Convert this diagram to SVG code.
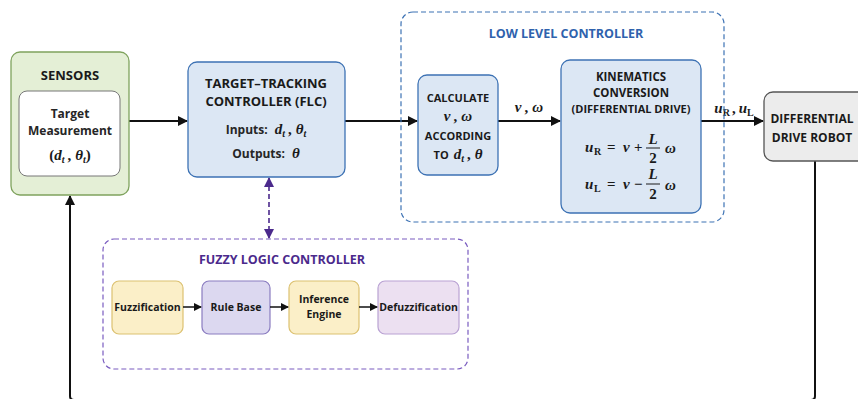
<svg xmlns="http://www.w3.org/2000/svg" width="858" height="399" viewBox="0 0 858 399">
<defs>
<marker id="ah" markerWidth="10" markerHeight="10" refX="9" refY="5" orient="auto" markerUnits="userSpaceOnUse"><path d="M0,0 L10,5 L0,10 z" fill="#111"/></marker>
<marker id="ahs" markerWidth="8" markerHeight="8" refX="7" refY="4" orient="auto" markerUnits="userSpaceOnUse"><path d="M0,0 L8,4 L0,8 z" fill="#111"/></marker>
<marker id="ahp" markerWidth="10" markerHeight="10" refX="9" refY="5" orient="auto-start-reverse" markerUnits="userSpaceOnUse"><path d="M0,0 L10,5 L0,10 z" fill="#4b2a8c"/></marker>
</defs>
<style>
.t{font-family:"Open Sans","Noto Sans","Liberation Sans",sans-serif;fill:#1a1a1a;text-anchor:middle}
.b{font-weight:700}
.sb{font-weight:700;fill:#262626}
.m{font-family:"Liberation Serif","DejaVu Serif",serif;font-style:italic;font-weight:700;fill:#1a1a1a}
.mr{font-family:"Liberation Serif","DejaVu Serif",serif;font-weight:700;fill:#1a1a1a}
.ln{stroke:#111;stroke-width:2;fill:none}
</style>
<rect width="858" height="399" fill="#ffffff"/>

<g id="connectors">
<line class="ln" x1="129" y1="121" x2="187" y2="121" marker-end="url(#ah)"/>
<line class="ln" x1="345" y1="121" x2="417" y2="121" marker-end="url(#ah)"/>
<line class="ln" x1="498" y1="121" x2="560" y2="121" marker-end="url(#ah)"/>
<line class="ln" x1="701" y1="121" x2="763" y2="121" marker-end="url(#ah)"/>
<path class="ln" d="M815,161 V396 Q815,400 811,400 H74 Q70,400 70,396 V196" marker-end="url(#ah)"/>
<line x1="269" y1="178" x2="269" y2="238" stroke="#4b2a8c" stroke-width="1.6" stroke-dasharray="5,3" marker-start="url(#ahp)" marker-end="url(#ahp)"/>
<text x="529" y="112" text-anchor="middle"><tspan class="m" font-size="15">v</tspan><tspan class="mr" font-size="15" dx="3">,</tspan><tspan class="m" font-size="15" dx="4">ω</tspan></text>
<text x="734" y="113" text-anchor="middle"><tspan class="m" font-size="15">u</tspan><tspan class="mr" font-size="10" dy="3">R</tspan><tspan class="mr" font-size="15" dy="-3" dx="2">,</tspan><tspan class="m" font-size="15" dx="3">u</tspan><tspan class="mr" font-size="10" dy="3">L</tspan></text>
</g>

<g id="sensors">
<rect x="11" y="52" width="118" height="143" rx="9" fill="#e4efd6" stroke="#7fa35e" stroke-width="1.3"/>
<text class="t b" x="70" y="80" font-size="13">SENSORS</text>
<rect x="19" y="91" width="101" height="85" rx="8" fill="#ffffff" stroke="#777" stroke-width="1"/>
<text class="t sb" x="70" y="118" font-size="12">Target</text>
<text class="t sb" x="70" y="135" font-size="12">Measurement</text>
<text x="70" y="160" text-anchor="middle"><tspan class="mr" font-size="15">(</tspan><tspan class="m" font-size="15">d</tspan><tspan class="m" font-size="10" dy="3">t</tspan><tspan class="mr" font-size="15" dy="-3" dx="3">,</tspan><tspan class="m" font-size="15" dx="4">θ</tspan><tspan class="m" font-size="10" dy="3">t</tspan><tspan class="mr" font-size="15" dy="-3">)</tspan></text>
</g>

<g id="target-tracking">
<rect x="188" y="62" width="157" height="115" rx="9" fill="#dce7f4" stroke="#3d72b4" stroke-width="1.3"/>
<text class="t b" x="266" y="88" font-size="13">TARGET–TRACKING</text>
<text class="t b" x="266" y="106" font-size="13">CONTROLLER (FLC)</text>
<text x="266" y="134" text-anchor="middle"><tspan class="t sb" font-size="12">Inputs:</tspan><tspan class="m" font-size="15" dx="7">d</tspan><tspan class="m" font-size="10" dy="3">t</tspan><tspan class="mr" font-size="15" dy="-3" dx="3">,</tspan><tspan class="m" font-size="15" dx="4">θ</tspan><tspan class="m" font-size="10" dy="3">t</tspan></text>
<text x="266" y="158" text-anchor="middle"><tspan class="t sb" font-size="12">Outputs:</tspan><tspan class="m" font-size="15" dx="7">θ</tspan></text>
</g>

<g id="low-level-controller">
<rect x="401" y="12" width="323" height="210" rx="12" fill="none" stroke="#3d72b4" stroke-width="1.2" stroke-dasharray="5,3"/>
<text class="t b" x="566" y="38" font-size="12.5" style="fill:#2f62ad">LOW LEVEL CONTROLLER</text>
</g>

<g id="calculate">
<rect x="418" y="75" width="80" height="100" rx="9" fill="#dce7f4" stroke="#3d72b4" stroke-width="1.3"/>
<text class="t b" x="458" y="102" font-size="11">CALCULATE</text>
<text x="458" y="121" text-anchor="middle"><tspan class="m" font-size="15">v</tspan><tspan class="mr" font-size="15" dx="3">,</tspan><tspan class="m" font-size="15" dx="4">ω</tspan></text>
<text class="t b" x="458" y="140" font-size="11">ACCORDING</text>
<text x="458" y="159" text-anchor="middle"><tspan class="t b" font-size="11">TO</tspan><tspan class="m" font-size="15" dx="5">d</tspan><tspan class="m" font-size="10" dy="3">t</tspan><tspan class="mr" font-size="15" dy="-3" dx="3">,</tspan><tspan class="m" font-size="15" dx="4">θ</tspan></text>
</g>

<g id="kinematics">
<rect x="561" y="60" width="140" height="153" rx="9" fill="#dce7f4" stroke="#3d72b4" stroke-width="1.3"/>
<text class="t b" x="631" y="81" font-size="11.5">KINEMATICS</text>
<text class="t b" x="631" y="97" font-size="11.5">CONVERSION</text>
<text class="t b" x="631" y="113" font-size="11">(DIFFERENTIAL DRIVE)</text>
<text class="m" x="585" y="152" font-size="15">u</text>
<text class="mr" x="594" y="155" font-size="10">R</text>
<text class="mr" x="607" y="152" font-size="15">=</text>
<text class="m" x="623" y="152" font-size="15">v</text>
<text class="mr" x="634" y="152" font-size="15">+</text>
<text class="m" x="653" y="144" font-size="15" text-anchor="middle">L</text>
<line x1="646" y1="148" x2="660" y2="148" stroke="#1a1a1a" stroke-width="1"/>
<text class="mr" x="653" y="163" font-size="15" text-anchor="middle">2</text>
<text class="m" x="665" y="153" font-size="15">ω</text>
<text class="m" x="585" y="189" font-size="15">u</text>
<text class="mr" x="594" y="192" font-size="10">L</text>
<text class="mr" x="607" y="189" font-size="15">=</text>
<text class="m" x="623" y="189" font-size="15">v</text>
<text class="mr" x="634" y="189" font-size="15">−</text>
<text class="m" x="653" y="179" font-size="15" text-anchor="middle">L</text>
<line x1="646" y1="184" x2="660" y2="184" stroke="#1a1a1a" stroke-width="1"/>
<text class="mr" x="653" y="199" font-size="15" text-anchor="middle">2</text>
<text class="m" x="665" y="190" font-size="15">ω</text>
</g>

<g id="robot">
<rect x="764" y="92" width="104" height="69" rx="9" fill="#ececec" stroke="#555" stroke-width="1.3"/>
<text class="t b" x="812" y="123" font-size="12">DIFFERENTIAL</text>
<text class="t b" x="812" y="142" font-size="12">DRIVE ROBOT</text>
</g>

<g id="fuzzy-logic-controller">
<rect x="103" y="239" width="365" height="130" rx="11" fill="none" stroke="#7a5cc0" stroke-width="1.2" stroke-dasharray="5,3"/>
<text class="t b" x="282" y="264" font-size="12.5" style="fill:#4b2a8c">FUZZY LOGIC CONTROLLER</text>
</g>

<g id="fuzzification">
<rect x="112" y="281" width="71" height="53" rx="7" fill="#fbefc8" stroke="#dcc171" stroke-width="1.2"/>
<text class="t b" x="147.5" y="311" font-size="10.5">Fuzzification</text>
</g>
<g id="rule-base">
<rect x="202" y="281" width="68" height="53" rx="7" fill="#dcd8f0" stroke="#8a7cc0" stroke-width="1.2"/>
<text class="t b" x="236" y="311" font-size="10.5">Rule Base</text>
</g>
<g id="inference-engine">
<rect x="289" y="281" width="70" height="53" rx="7" fill="#fbefc8" stroke="#dcc171" stroke-width="1.2"/>
<text class="t b" x="324" y="303" font-size="10.5">Inference</text>
<text class="t b" x="324" y="318" font-size="10.5">Engine</text>
</g>
<g id="defuzzification">
<rect x="378" y="281" width="81" height="53" rx="7" fill="#ece0f1" stroke="#b9a2d3" stroke-width="1.2"/>
<text class="t b" x="418.5" y="311" font-size="10.5">Defuzzification</text>
</g>
<g id="fuzzy-connectors">
<line x1="183" y1="307" x2="201" y2="307" stroke="#111" stroke-width="1.5" marker-end="url(#ahs)"/>
<line x1="270" y1="307" x2="288" y2="307" stroke="#111" stroke-width="1.5" marker-end="url(#ahs)"/>
<line x1="359" y1="307" x2="377" y2="307" stroke="#111" stroke-width="1.5" marker-end="url(#ahs)"/>
</g>
</svg>
